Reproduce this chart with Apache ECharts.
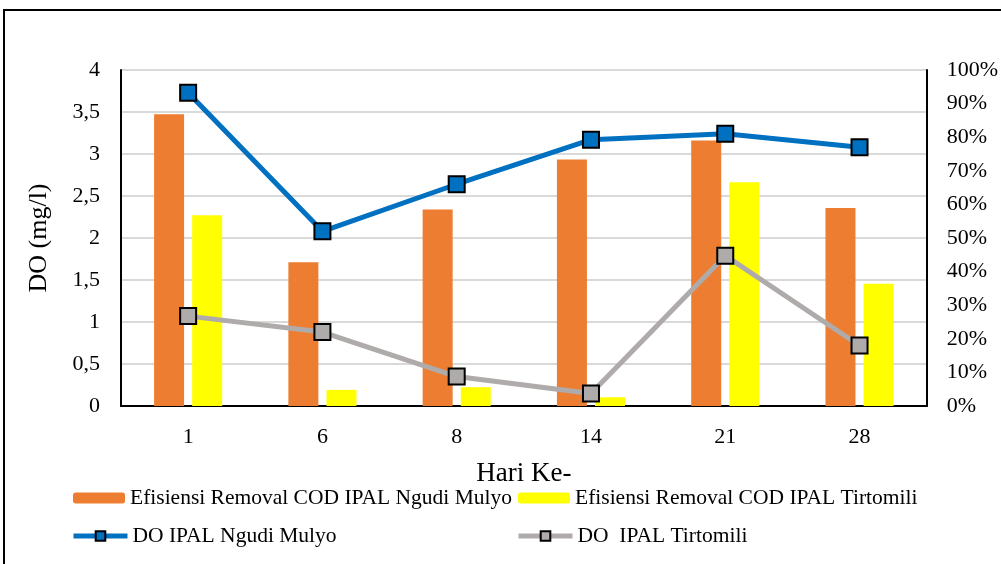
<!DOCTYPE html>
<html><head><meta charset="utf-8">
<script src="https://cdn.jsdelivr.net/npm/echarts@6/dist/echarts.min.js"></script>
<style>html,body{margin:0;padding:0;background:#fff}#c{width:1001px;height:564px}</style>
</head><body><div id="c"></div>
<script>
const categories = ['1','6','8','14','21','28'];
const codNgudi = [0.868, 0.428, 0.585, 0.734, 0.790, 0.589];
const codTirto = [0.568, 0.048, 0.056, 0.026, 0.666, 0.364];
const doNgudi = [3.73, 2.08, 2.64, 3.17, 3.24, 3.08];
const doTirto = [1.07, 0.88, 0.35, 0.15, 1.79, 0.72];
const leftTicks = {min:0, max:4, interval:0.5};
const rightTicks = {min:0, max:1, interval:0.1};
const names = ['Efisiensi Removal COD IPAL Ngudi Mulyo','Efisiensi Removal COD IPAL Tirtomili','DO IPAL Ngudi Mulyo','DO  IPAL Tirtomili'];

const font = 'Liberation Serif';
const chart = echarts.init(document.getElementById('c'));
const legendText = {fontFamily: font, fontSize: 21.5, color: '#000'};
function leg(name, left, top, w, h) {
  return {data:[name], left:left, top:top, itemWidth:w, itemHeight:h, itemGap:6,
    textStyle: legendText, selectedMode:false, padding:0, lineStyle:{width:5}};
}
const blackLine = {show:true, lineStyle:{color:'#000', width:2}};
chart.setOption({
  animation:false,
  graphic:[{type:'rect', shape:{x:4, y:10, width:1200, height:800}, style:{fill:'none', stroke:'#000', lineWidth:2}, silent:true}],
  grid:{left:121, right:73, top:70, bottom:158},
  legend:[
    leg(names[0], 73, 487, 52, 11),
    leg(names[1], 518, 487, 52, 11),
    leg(names[2], 71, 525, 54, 12),
    leg(names[3], 516, 525, 54, 12)
  ],
  xAxis:[
    {type:'category', data:categories, name:'Hari Ke-', nameLocation:'middle', nameGap:54,
      nameTextStyle:{fontFamily:font, fontSize:27, color:'#000'},
      axisLine:blackLine, axisTick:{show:false},
      axisLabel:{fontFamily:font, fontSize:22, color:'#000', margin:20}},
    {type:'category', data:categories, position:'top',
      axisLine:blackLine, axisTick:{show:false}, axisLabel:{show:false}}
  ],
  yAxis:[
    {type:'value', min:leftTicks.min, max:leftTicks.max, interval:leftTicks.interval,
      name:'DO (mg/l)', nameLocation:'middle', nameGap:69, nameRotate:90,
      nameTextStyle:{fontFamily:font, fontSize:26, color:'#000'},
      axisLine:blackLine, axisTick:{show:false},
      axisLabel:{fontFamily:font, fontSize:22, color:'#000', margin:21,
        formatter: v => String(v).replace('.', ',')},
      splitLine:{lineStyle:{color:'#d9d9d9', width:2}}},
    {type:'value', min:rightTicks.min, max:rightTicks.max, interval:rightTicks.interval,
      axisLine:blackLine, axisTick:{show:false}, splitLine:{show:false},
      axisLabel:{fontFamily:font, fontSize:22, color:'#000', margin:20,
        formatter: v => Math.round(v*100) + '%'}}
  ],
  series:[
    {name:names[0], type:'bar', yAxisIndex:1, data:codNgudi, barWidth:30, barGap:'27%', itemStyle:{color:'#ED7D31'}},
    {name:names[1], type:'bar', yAxisIndex:1, data:codTirto, barWidth:30, barGap:'27%', itemStyle:{color:'#FFFF00'}},
    {name:names[2], type:'line', yAxisIndex:0, data:doNgudi, symbol:'rect', symbolSize:16,
      lineStyle:{color:'#0070C0', width:5}, itemStyle:{color:'#0070C0', borderColor:'#000', borderWidth:2}},
    {name:names[3], type:'line', yAxisIndex:0, data:doTirto, symbol:'rect', symbolSize:16,
      lineStyle:{color:'#AFABAB', width:5}, itemStyle:{color:'#AFABAB', borderColor:'#000', borderWidth:2}}
  ]
});
</script></body></html>
